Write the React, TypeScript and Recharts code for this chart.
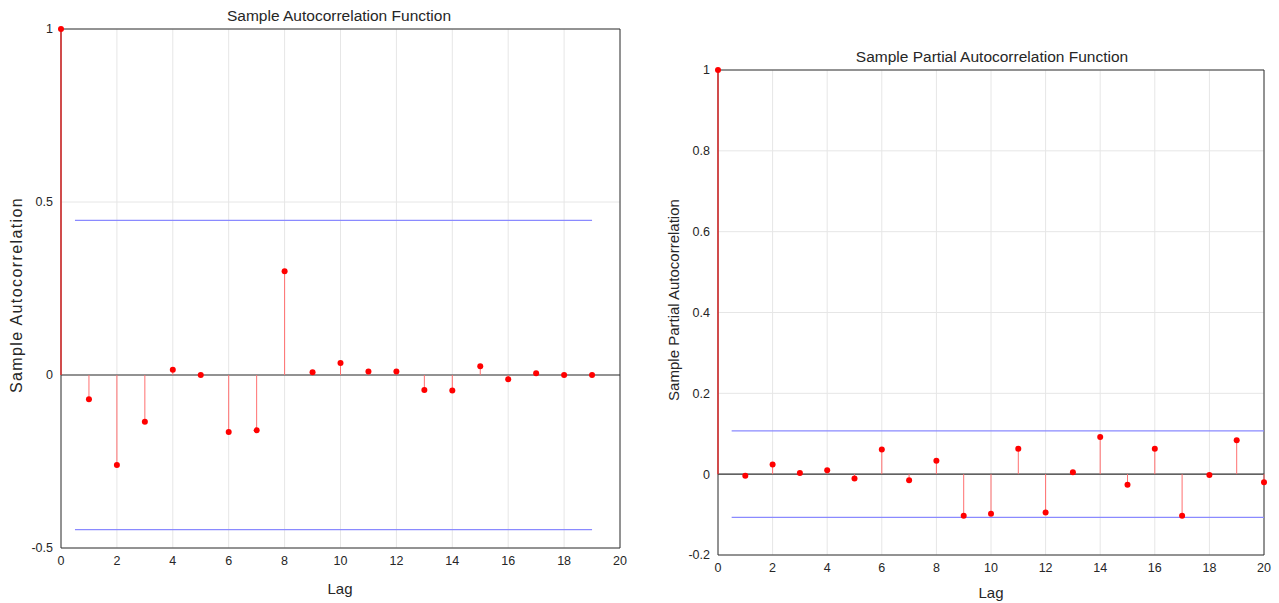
import {
  ComposedChart,
  Scatter,
  XAxis,
  YAxis,
  CartesianGrid,
  ReferenceLine,
} from "recharts";

const acfLags = [0, 1, 2, 3, 4, 5, 6, 7, 8, 9, 10, 11, 12, 13, 14, 15, 16, 17, 18, 19];
const acfValues = [
  1, -0.07, -0.26, -0.135, 0.015, 0, -0.165, -0.16, 0.3, 0.008, 0.035, 0.01, 0.01, -0.043,
  -0.045, 0.025, -0.012, 0.005, 0, 0,
];
const acfBound = 0.447;
const acfYTicks = [-0.5, 0, 0.5, 1];

const pacfLags = [0, 1, 2, 3, 4, 5, 6, 7, 8, 9, 10, 11, 12, 13, 14, 15, 16, 17, 18, 19, 20];
const pacfValues = [
  1, -0.004, 0.024, 0.003, 0.01, -0.011, 0.061, -0.015, 0.033, -0.103, -0.098, 0.063, -0.095,
  0.005, 0.092, -0.026, 0.063, -0.103, -0.002, 0.084, -0.02,
];
const pacfBound = 0.107;
const pacfYTicks = [-0.2, 0, 0.2, 0.4, 0.6, 0.8, 1];

const lagTicks = [0, 2, 4, 6, 8, 10, 12, 14, 16, 18, 20];

const FONT = "'Liberation Sans', Arial, sans-serif";
const TEXT = "#262626";
const GRID = "#e6e6e6";
const BOX = "#333333";
const STEM = "#ff7070";
const DOT = "#ff0000";
const BLUE = "#8a8aff";

interface StemProps {
  lags: number[];
  values: number[];
  bound: number;
  boundEnd: number;
  yDomain: [number, number];
  yTicks: number[];
  width: number;
  height: number;
  margin: { top: number; right: number; bottom: number; left: number };
  yAxisWidth: number;
}

function StemChart(p: StemProps) {
  const data = p.lags.map((lag, i) => ({ lag, value: p.values[i] }));
  return (
    <ComposedChart width={p.width} height={p.height} data={data} margin={p.margin}>
      <CartesianGrid stroke={GRID} strokeWidth={1} xAxisId="b" yAxisId="l" />
      <XAxis
        xAxisId="b"
        dataKey="lag"
        type="number"
        domain={[0, 20]}
        ticks={lagTicks}
        tickLine={false}
        axisLine={{ stroke: BOX }}
        tick={{ fill: TEXT, fontSize: 12.5, fontFamily: FONT }}
        height={30}
      />
      <YAxis
        yAxisId="l"
        type="number"
        domain={p.yDomain}
        ticks={p.yTicks}
        tickLine={false}
        axisLine={false}
        tick={{ fill: TEXT, fontSize: 12.5, fontFamily: FONT }}
        width={p.yAxisWidth}
      />
      {/* box edges: left, top, right */}
      <ReferenceLine xAxisId="b" yAxisId="l" x={0} stroke={BOX} strokeWidth={1} />
      <ReferenceLine xAxisId="b" yAxisId="l" y={p.yDomain[1]} stroke={BOX} strokeWidth={1} />
      <ReferenceLine xAxisId="b" yAxisId="l" x={20} stroke={BOX} strokeWidth={1} />
      <ReferenceLine xAxisId="b" yAxisId="l" y={0} stroke={BOX} strokeWidth={1.2} />
      {data.map((d) => (
        <ReferenceLine
          key={`s${d.lag}`}
          xAxisId="b"
          yAxisId="l"
          segment={[
            { x: d.lag, y: 0 },
            { x: d.lag, y: d.value },
          ]}
          stroke={d.lag === 0 ? "#e03a3a" : STEM}
          strokeWidth={d.lag === 0 ? 1.6 : 1}
        />
      ))}
      <ReferenceLine
        xAxisId="b"
        yAxisId="l"
        segment={[
          { x: 0.5, y: p.bound },
          { x: p.boundEnd, y: p.bound },
        ]}
        stroke={BLUE}
        strokeWidth={1.2}
      />
      <ReferenceLine
        xAxisId="b"
        yAxisId="l"
        segment={[
          { x: 0.5, y: -p.bound },
          { x: p.boundEnd, y: -p.bound },
        ]}
        stroke={BLUE}
        strokeWidth={1.2}
      />
      <Scatter
        xAxisId="b"
        yAxisId="l"
        dataKey="value"
        fill={DOT}
        isAnimationActive={false}
        shape={(s: any) => <circle cx={s.cx} cy={s.cy} r={3} fill={DOT} />}
      />
    </ComposedChart>
  );
}

const label = (extra: React.CSSProperties): React.CSSProperties => ({
  position: "absolute",
  fontFamily: FONT,
  color: TEXT,
  whiteSpace: "nowrap",
  lineHeight: 1,
  ...extra,
});

export default function App() {
  return (
    <div
      style={{
        position: "absolute",
        left: 0,
        top: 0,
        width: 1279,
        height: 603,
        background: "#fff",
        overflow: "hidden",
      }}
    >
      <div style={{ position: "absolute", left: 0, top: 0 }}>
        <StemChart
          lags={acfLags}
          values={acfValues}
          bound={acfBound}
          boundEnd={19}
          yDomain={[-0.5, 1]}
          yTicks={acfYTicks}
          width={640}
          height={603}
          margin={{ top: 29, right: 20, bottom: 25, left: 0 }}
          yAxisWidth={61}
        />
      </div>
      <div style={{ position: "absolute", left: 640, top: 0 }}>
        <StemChart
          lags={pacfLags}
          values={pacfValues}
          bound={pacfBound}
          boundEnd={20}
          yDomain={[-0.2, 1]}
          yTicks={pacfYTicks}
          width={639}
          height={603}
          margin={{ top: 70, right: 15, bottom: 18, left: 0 }}
          yAxisWidth={78}
        />
      </div>

      <div style={label({ left: 339, top: 8, fontSize: 15.5, transform: "translateX(-50%)" })}>
        Sample Autocorrelation Function
      </div>
      <div style={label({ left: 992, top: 49, fontSize: 15.5, transform: "translateX(-50%)" })}>
        Sample Partial Autocorrelation Function
      </div>
      <div style={label({ left: 340, top: 581, fontSize: 15, transform: "translateX(-50%)" })}>
        Lag
      </div>
      <div style={label({ left: 991, top: 585, fontSize: 15, transform: "translateX(-50%)" })}>
        Lag
      </div>
      <div
        style={label({
          left: 17,
          top: 295,
          fontSize: 16,
          letterSpacing: 1.4,
          transform: "translate(-50%, -50%) rotate(-90deg)",
        })}
      >
        Sample Autocorrelation
      </div>
      <div
        style={label({
          left: 673,
          top: 300,
          fontSize: 15,
          transform: "translate(-50%, -50%) rotate(-90deg)",
        })}
      >
        Sample Partial Autocorrelation
      </div>
    </div>
  );
}
